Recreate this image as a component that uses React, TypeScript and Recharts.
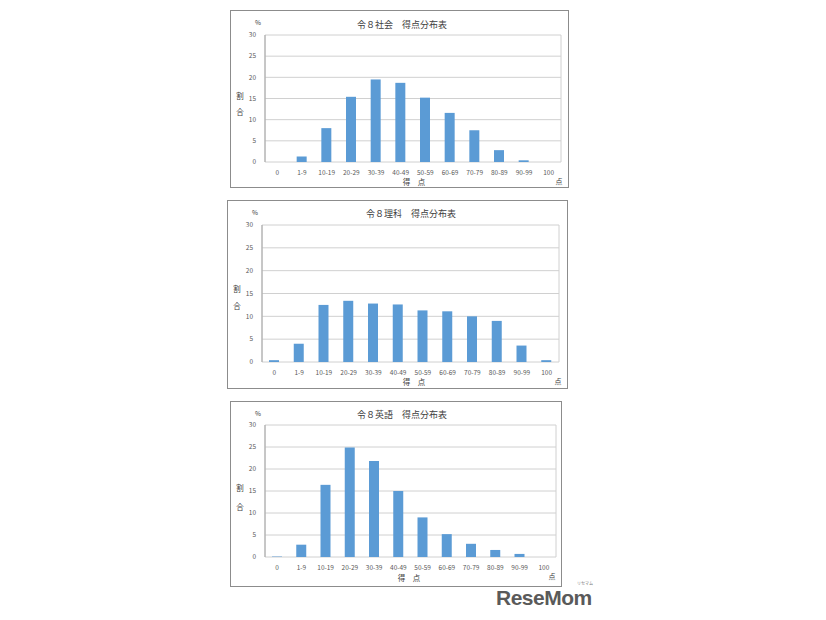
import { Bar, BarChart, CartesianGrid, XAxis, YAxis } from "recharts";

const categories = ["0", "1-9", "10-19", "20-29", "30-39", "40-49", "50-59", "60-69", "70-79", "80-89", "90-99", "100"];
const shakaiValues = [0, 1.3, 8.0, 15.4, 19.5, 18.7, 15.2, 11.6, 7.5, 2.8, 0.4, 0];
const rikaValues = [0.4, 4.0, 12.5, 13.4, 12.8, 12.6, 11.3, 11.1, 10.0, 9.0, 3.6, 0.4];
const eigoValues = [0.1, 2.8, 16.4, 24.9, 21.8, 15.0, 9.0, 5.2, 3.0, 1.6, 0.7, 0];
const yTicks = [0, 5, 10, 15, 20, 25, 30];

const FONT = '"Noto Sans CJK JP", "Noto Sans", sans-serif';
const TEXT = "#404040";

type Box = {
  left: number;
  top: number;
  width: number;
  height: number;
  margin: { top: number; right: number; bottom: number };
  // label positions, relative to the box
  title: [number, number];
  pct: [number, number];
  wari: [number, number, number];
  xlabel: [number, number];
  ten: [number, number];
};

function Txt({ x, y, size, children }: { x: number; y: number; size: number; children: string }) {
  return (
    <span
      style={{
        position: "absolute",
        left: x,
        top: y,
        transform: "translate(-50%, -50%)",
        fontSize: size,
        color: TEXT,
        whiteSpace: "pre",
        lineHeight: 1,
      }}
    >
      {children}
    </span>
  );
}

function ScoreChart({ title, values, box }: { title: string; values: number[]; box: Box }) {
  const data = categories.map((c, i) => ({ name: c, value: values[i] }));
  return (
    <div
      style={{
        position: "absolute",
        left: box.left,
        top: box.top,
        width: box.width,
        height: box.height,
        border: "1px solid #8c8c8c",
        boxSizing: "border-box",
        background: "#fff",
        fontFamily: FONT,
      }}
    >
      <div style={{ position: "absolute", left: -1, top: -1 }}>
        <BarChart
          width={box.width}
          height={box.height}
          data={data}
          margin={{ top: box.margin.top, right: box.margin.right, bottom: box.margin.bottom, left: 0 }}
        >
          <CartesianGrid
            stroke="#d0d0d0"
            syncWithTicks
            verticalCoordinatesGenerator={({ offset }: any) => [offset.left, offset.left + offset.width]}
          />
          <XAxis
            dataKey="name"
            interval={0}
            tickLine={false}
            axisLine={false}
            height={12}
            tickMargin={2}
            tick={{ fontSize: 6.5, fill: "#595959", fontFamily: FONT }}
          />
          <YAxis
            domain={[0, 30]}
            ticks={yTicks}
            interval={0}
            width={35}
            tickLine={false}
            axisLine={{ stroke: "#a6a6a6" }}
            tickMargin={3}
            tick={{ fontSize: 6.5, fill: "#595959", fontFamily: FONT }}
          />
          <Bar dataKey="value" fill="#5b9bd5" barSize={10} isAnimationActive={false} />
        </BarChart>
      </div>
      <Txt x={box.title[0]} y={box.title[1]} size={9}>{title}</Txt>
      <Txt x={box.pct[0]} y={box.pct[1]} size={6.5}>%</Txt>
      <Txt x={box.wari[0]} y={box.wari[1]} size={7.5}>割</Txt>
      <Txt x={box.wari[0]} y={box.wari[2]} size={7.5}>合</Txt>
      <Txt x={box.xlabel[0]} y={box.xlabel[1]} size={7.5}>{"得　点"}</Txt>
      <Txt x={box.ten[0]} y={box.ten[1]} size={7}>点</Txt>
    </div>
  );
}

const box1: Box = {
  left: 230, top: 10, width: 339, height: 178,
  margin: { top: 25, right: 8, bottom: 14 },
  title: [171, 13], pct: [27, 11], wari: [9, 85, 101], xlabel: [183, 171], ten: [328, 170],
};
const box2: Box = {
  left: 227, top: 200, width: 341, height: 189,
  margin: { top: 25, right: 9, bottom: 15 },
  title: [183, 12], pct: [27, 11], wari: [9, 88, 105], xlabel: [186, 181], ten: [330, 180],
};
const box3: Box = {
  left: 230, top: 401, width: 332, height: 186,
  margin: { top: 24, right: 6, bottom: 18 },
  title: [171, 12], pct: [27, 11], wari: [9, 86, 105], xlabel: [178, 176], ten: [321, 174],
};

export default function App() {
  return (
    <div style={{ position: "absolute", left: 0, top: 0, width: 826, height: 620, background: "#fff" }}>
      <ScoreChart title={"令８社会　得点分布表"} values={shakaiValues} box={box1} />
      <ScoreChart title={"令８理科　得点分布表"} values={rikaValues} box={box2} />
      <ScoreChart title={"令８英語　得点分布表"} values={eigoValues} box={box3} />
      <div
        style={{
          position: "absolute",
          left: 496,
          top: 587,
          fontFamily: '"Liberation Sans", Arial, sans-serif',
          fontWeight: 700,
          fontSize: 21,
          color: "#5a5a5a",
          letterSpacing: -0.5,
          lineHeight: 1,
        }}
      >
        ReseMom
      </div>
      <div
        style={{
          position: "absolute",
          left: 577,
          top: 581,
          fontFamily: FONT,
          fontSize: 4,
          color: "#777",
          lineHeight: 1,
        }}
      >
        リセマム
      </div>
    </div>
  );
}
